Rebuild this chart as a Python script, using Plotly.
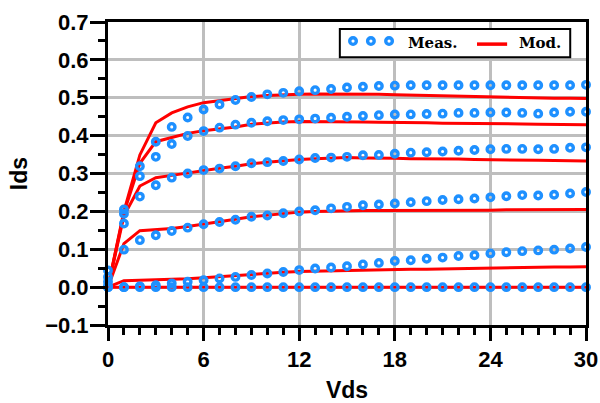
import plotly.graph_objects as go

vds = list(range(0, 31))

meas_1 = [0.044, 0.205, 0.319, 0.384, 0.423, 0.448, 0.469, 0.482, 0.494, 0.502, 0.509, 0.513, 0.517, 0.520,
          0.523, 0.527, 0.529, 0.531, 0.532, 0.533, 0.533, 0.533, 0.533, 0.533, 0.533, 0.533, 0.533, 0.533,
          0.533, 0.533, 0.534]
meas_2 = [0.027, 0.194, 0.293, 0.344, 0.378, 0.399, 0.412, 0.421, 0.429, 0.434, 0.438, 0.441, 0.443, 0.445,
          0.447, 0.450, 0.452, 0.454, 0.456, 0.456, 0.457, 0.458, 0.460, 0.460, 0.461, 0.461, 0.460, 0.458,
          0.461, 0.463, 0.463]
meas_3 = [0.014, 0.168, 0.239, 0.269, 0.289, 0.300, 0.309, 0.313, 0.319, 0.327, 0.330, 0.333, 0.337, 0.341,
          0.342, 0.344, 0.348, 0.349, 0.352, 0.355, 0.356, 0.358, 0.360, 0.362, 0.364, 0.365, 0.365, 0.364,
          0.365, 0.368, 0.369]
meas_4 = [0.003, 0.099, 0.124, 0.137, 0.148, 0.157, 0.166, 0.172, 0.178, 0.186, 0.189, 0.195, 0.200, 0.203,
          0.208, 0.212, 0.216, 0.218, 0.221, 0.224, 0.227, 0.230, 0.232, 0.234, 0.237, 0.240, 0.243, 0.242,
          0.244, 0.247, 0.251]
meas_5 = [0.000, 0.000, 0.002, 0.005, 0.010, 0.014, 0.018, 0.023, 0.027, 0.032, 0.036, 0.040, 0.045, 0.049,
          0.052, 0.055, 0.060, 0.064, 0.069, 0.071, 0.075, 0.078, 0.082, 0.084, 0.089, 0.092, 0.095, 0.097,
          0.099, 0.102, 0.106]
meas_6 = [0.0] * 31

mod_1 = [0.0, 0.200, 0.349, 0.434, 0.460, 0.476, 0.487, 0.492, 0.498, 0.503, 0.506, 0.508, 0.509, 0.510,
         0.510, 0.510, 0.509, 0.509, 0.508, 0.507, 0.507, 0.506, 0.505, 0.504, 0.503, 0.502, 0.501, 0.500,
         0.499, 0.499, 0.498]
mod_2 = [0.0, 0.196, 0.327, 0.384, 0.395, 0.406, 0.413, 0.418, 0.423, 0.430, 0.434, 0.436, 0.437, 0.437,
         0.437, 0.436, 0.436, 0.435, 0.435, 0.434, 0.434, 0.433, 0.433, 0.432, 0.432, 0.431, 0.431, 0.430,
         0.430, 0.429, 0.429]
mod_3 = [0.0, 0.188, 0.267, 0.289, 0.295, 0.302, 0.309, 0.314, 0.319, 0.326, 0.330, 0.334, 0.337, 0.339,
         0.341, 0.342, 0.341, 0.341, 0.340, 0.339, 0.339, 0.338, 0.338, 0.337, 0.337, 0.336, 0.335, 0.335,
         0.334, 0.334, 0.333]
mod_4 = [0.0, 0.115, 0.149, 0.152, 0.155, 0.160, 0.166, 0.172, 0.179, 0.186, 0.190, 0.194, 0.198, 0.200,
         0.201, 0.202, 0.202, 0.202, 0.202, 0.202, 0.203, 0.203, 0.203, 0.203, 0.203, 0.204, 0.204, 0.204,
         0.204, 0.205, 0.205]
mod_5 = [0.0, 0.017, 0.018, 0.019, 0.020, 0.022, 0.025, 0.028, 0.031, 0.034, 0.036, 0.039, 0.041, 0.042,
         0.043, 0.044, 0.045, 0.045, 0.046, 0.047, 0.047, 0.048, 0.048, 0.049, 0.050, 0.051, 0.051, 0.052,
         0.053, 0.053, 0.054]
mod_6 = [0.0] * 31

x_ticks = [0, 6, 12, 18, 24, 30]
y_ticks = [-0.1, 0.0, 0.1, 0.2, 0.3, 0.4, 0.5, 0.6, 0.7]

BLUE = "#1E90FF"
RED = "#FF0000"

fig = go.Figure()
for m in [mod_1, mod_2, mod_3, mod_4, mod_5, mod_6]:
    fig.add_trace(go.Scatter(x=vds, y=m, mode="lines", line=dict(color=RED, width=3),
                             showlegend=False, cliponaxis=False))
for s in [meas_1, meas_2, meas_3, meas_4, meas_5, meas_6]:
    fig.add_trace(go.Scatter(x=vds, y=s, mode="markers",
                             marker=dict(symbol="circle-open", size=6.5, color=BLUE,
                                         line=dict(color=BLUE, width=3.4)),
                             showlegend=False, cliponaxis=False))

tickfont = dict(family="Liberation Sans, Arial", size=22, color="black", weight="bold")
titlefont = dict(family="Liberation Sans, Arial", size=23, color="black", weight="bold")

fig.update_xaxes(range=[0, 30], tickvals=x_ticks,
                 showgrid=True, gridcolor="#BEBEBE", gridwidth=3, zeroline=False,
                 showline=True, linecolor="black", linewidth=3, mirror=True,
                 ticks="outside", ticklen=13, tickwidth=3, tickcolor="black",
                 minor=dict(dtick=1, tick0=0, ticks="outside", ticklen=7, tickwidth=3,
                            tickcolor="black", showgrid=False),
                 tickfont=tickfont, title=dict(text="Vds", font=titlefont, standoff=14),
                 automargin=False)
fig.update_yaxes(range=[-0.1, 0.7], tickvals=y_ticks, tickformat=".1f",
                 showgrid=True, gridcolor="#BEBEBE", gridwidth=3, zeroline=False,
                 showline=True, linecolor="black", linewidth=3, mirror=True,
                 ticks="outside", ticklen=15, tickwidth=3, tickcolor="black",
                 minor=dict(dtick=0.05, tick0=0, ticks="outside", ticklen=7, tickwidth=3,
                            tickcolor="black", showgrid=False),
                 ticklabelstandoff=-3,
                 tickfont=tickfont, title=dict(text="Ids", font=titlefont, standoff=12),
                 automargin=False)

# custom legend (box, three open circles, red line, labels)
shapes = [dict(type="rect", xref="paper", yref="paper", x0=0.485, x1=0.967, y0=0.884, y1=0.977,
               line=dict(color="black", width=2), fillcolor="white", layer="above")]
for cx in [0.5126, 0.550, 0.588]:
    shapes.append(dict(type="circle", xref="paper", yref="paper", xsizemode="pixel", ysizemode="pixel",
                       xanchor=cx, yanchor=0.937, x0=-3.3, x1=3.3, y0=-3.3, y1=3.3,
                       line=dict(color=BLUE, width=3.4), layer="above"))
shapes.append(dict(type="line", xref="paper", yref="paper", x0=0.772, x1=0.835, y0=0.927, y1=0.927,
                   line=dict(color=RED, width=3.5), layer="above"))
legfont = dict(family="DejaVu Serif", size=15, color="black", weight="bold")
annotations = [
    dict(text="Meas.", xref="paper", yref="paper", x=0.680, y=0.931, showarrow=False,
         xanchor="center", yanchor="middle", font=legfont),
    dict(text="Mod.", xref="paper", yref="paper", x=0.904, y=0.931, showarrow=False,
         xanchor="center", yanchor="middle", font=legfont),
]

fig.update_layout(width=600, height=403, margin=dict(l=108, r=14, t=22, b=78),
                  plot_bgcolor="white", paper_bgcolor="white", showlegend=False,
                  shapes=shapes, annotations=annotations)

fig.write_html("out.html", config={"displayModeBar": False},
               post_script="document.body.style.margin='0px';document.body.style.overflow='hidden';")
